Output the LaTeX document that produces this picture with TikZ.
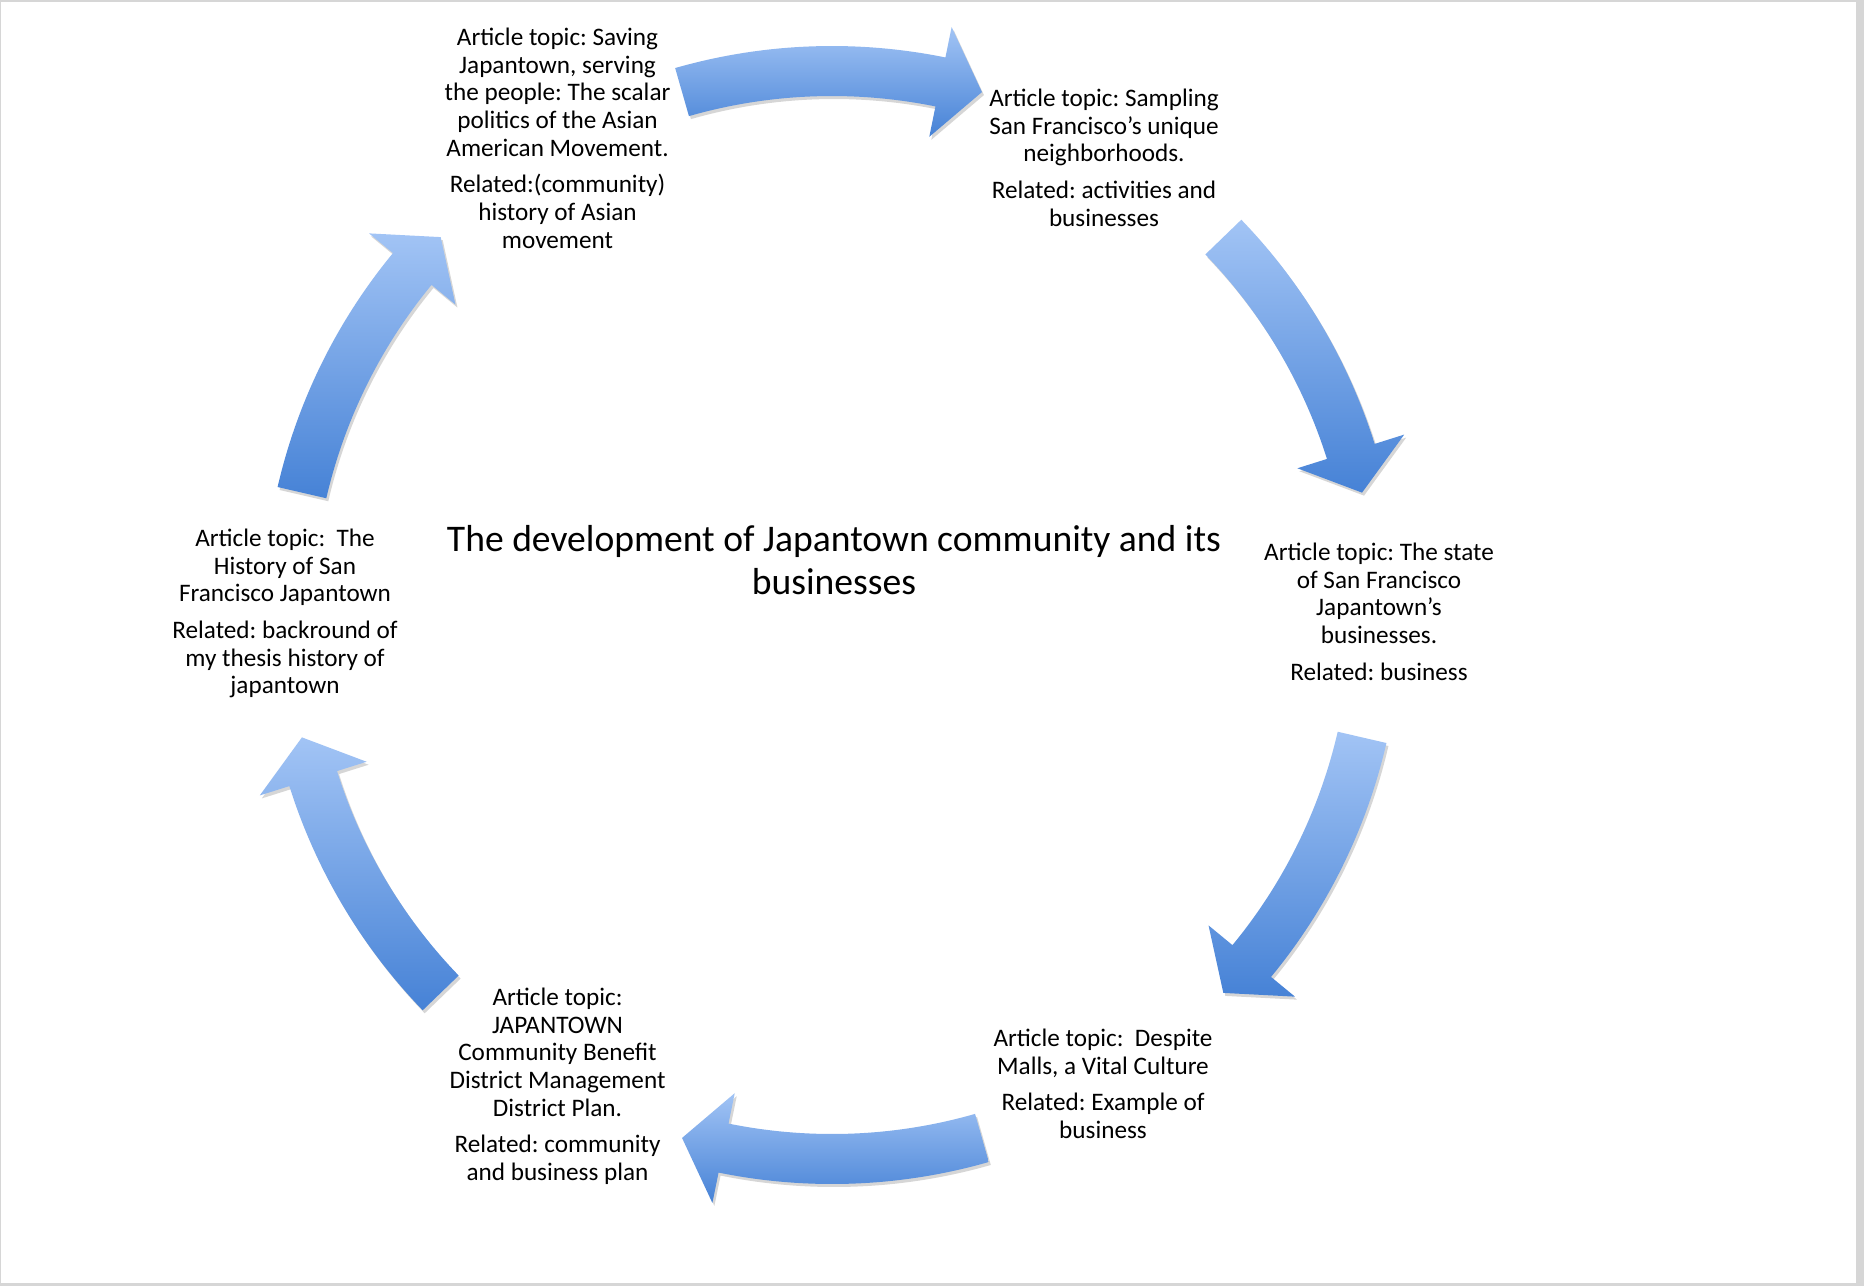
\documentclass[tikz,border=0pt]{standalone}
\usepackage{fontspec}
\setmainfont{Carlito}
\frenchspacing
\definecolor{arrowlight}{RGB}{162,196,245}
\definecolor{arrowdark}{RGB}{70,130,214}
\definecolor{framegray}{RGB}{214,214,214}
\newcommand\cycarrow[2]{%
  \pgfmathsetmacro\hb{#2-4.5}%
  \path[cycshadow] ([shift={(2,3)}]#1:569) arc[start angle=#1, end angle=\hb, radius=569]
    -- ([shift={(2,3)}]\hb:600) -- ([shift={(2,3)}]#2:544) -- ([shift={(2,3)}]\hb:488)
    -- ([shift={(2,3)}]\hb:519) arc[start angle=\hb, end angle=#1, radius=519] -- cycle;
  \path[cyc] (#1:569) arc[start angle=#1, end angle=\hb, radius=569]
    -- (\hb:600) -- (#2:544) -- (\hb:488)
    -- (\hb:519) arc[start angle=\hb, end angle=#1, radius=519] -- cycle;
}
\begin{document}
\begin{tikzpicture}[x=0.5pt,y=-0.5pt,
  topic/.style={align=center, inner sep=0pt, anchor=north, font=\fontsize{12.6}{13.9}\selectfont},
  headline/.style={align=center, inner sep=0pt, anchor=north, font=\fontsize{18.8}{21.5}\selectfont},
  cyc/.style={top color=arrowlight, bottom color=arrowdark, draw=none},
  cycshadow/.style={fill=black!35, opacity=0.45, draw=none}]
% page frame
\fill[framegray] (0,0) rectangle (1864,1286);
\fill[white] (1,2) rectangle (1856,1283);
\useasboundingbox (0,0) rectangle (1864,1286);
% cycle arrows
\begin{scope}[shift={(832,615)}]
  \cycarrow{-106}{-74}
  \cycarrow{-44}{-13}
  \cycarrow{13}{44}
  \cycarrow{74}{106}
  \cycarrow{136}{167}
  \cycarrow{193}{224}
\end{scope}
% texts
\node[topic] (t1) at (557.5,25.5) {\strut Article topic: Saving\\ Japantown, serving\\ the people: The scalar\\ politics of the Asian\\ American Movement.\\[4.3pt] Related:(community)\\ history of Asian\\ movement};
\node[topic] (t2) at (1104,86.5) {\strut Article topic: Sampling\\ San Francisco’s unique\\ neighborhoods.\\[4.3pt] Related: activities and\\ businesses};
\node[topic] (t3) at (1379,540.5) {\strut Article topic: The state\\ of San Francisco\\ Japantown’s\\ businesses.\\[4.3pt] Related: business};
\node[topic] (t4) at (1103,1026.5) {\strut Article topic: \ Despite\\ Malls, a Vital Culture\\[4.3pt] Related: Example of\\ business};
\node[topic] (t5) at (557.5,985.5) {\strut Article topic:\\ JAPANTOWN\\ Community Benefit\\ District Management\\ District Plan.\\[4.3pt] Related: community\\ and business plan};
\node[topic] (t6) at (285,526.5) {\strut Article topic: \ The\\ History of San\\ Francisco Japantown\\[4.3pt] Related: backround of\\ my thesis history of\\ japantown};
\node[headline] (title) at (834,520.5) {\strut The development of Japantown community and its\\ businesses};
\end{tikzpicture}
\end{document}
